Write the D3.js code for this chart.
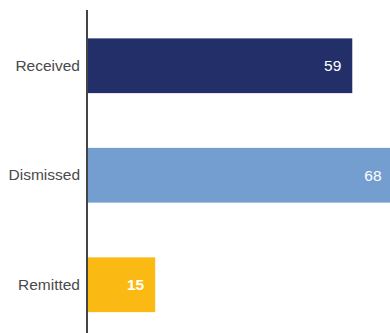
<!DOCTYPE html>
<html><head><meta charset="utf-8">
<script src="https://cdn.jsdelivr.net/npm/d3@7"></script>
<style>html,body{margin:0;padding:0;background:#fff;overflow:hidden}</style>
</head><body>
<svg id="chart" width="390" height="333"></svg>
<script>
const categories = ["Received", "Dismissed", "Remitted"];
const values = [59, 68, 15];
const colors = ["#222f69", "#739ecf", "#fbb914"];
const bold = [false, false, true];

const svg = d3.select("#chart");
const x = d3.scaleLinear().domain([0, 68]).range([88, 392.6]);
const y = d3.scaleBand().domain(categories).range([11, 339.5]).paddingInner(0.5).paddingOuter(0.25);

const data = categories.map((c, i) => ({c, v: values[i], col: colors[i], b: bold[i]}));

svg.selectAll("rect.bar").data(data).join("rect")
  .attr("class", "bar")
  .attr("x", x(0))
  .attr("y", d => y(d.c))
  .attr("width", d => x(d.v) - x(0))
  .attr("height", y.bandwidth())
  .attr("fill", d => d.col);

svg.selectAll("text.val").data(data).join("text")
  .attr("class", "val")
  .attr("x", d => x(d.v) - 11)
  .attr("y", d => y(d.c) + y.bandwidth() / 2)
  .attr("dy", "0.35em")
  .attr("text-anchor", "end")
  .attr("fill", "#fff")
  .attr("font-family", "Liberation Sans, Arial, sans-serif")
  .attr("font-size", 15.5)
  .attr("font-weight", d => d.b ? "bold" : "normal")
  .text(d => d.v);

const yAxis = svg.append("g").attr("transform", `translate(${x(0) - 1},0)`)
  .call(d3.axisLeft(y).tickSize(0).tickPadding(7));
yAxis.select(".domain").attr("stroke", "#444").attr("stroke-width", 2).attr("d", "M0,10V333");
yAxis.selectAll("text").attr("font-family", "Liberation Sans, Arial, sans-serif").attr("font-size", 15.5).attr("fill", "#4a4a4a");
</script>
</body></html>
